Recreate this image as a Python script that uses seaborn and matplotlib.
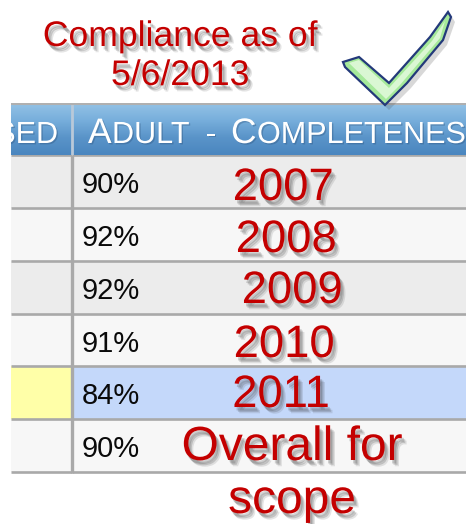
import numpy as np
import pandas as pd
import seaborn as sns
import matplotlib.pyplot as plt
import matplotlib.patheffects as pe
from matplotlib.colors import ListedColormap, LinearSegmentedColormap
from matplotlib.patches import Polygon

# Data
years = ['2007', '2008', '2009', '2010', '2011', 'Overall for\nscope']
completeness = [90, 92, 92, 91, 84, 90]
left_fill = ['gray', 'light', 'gray', 'light', 'yellow', 'light']
right_fill = ['gray', 'light', 'gray', 'light', 'blue', 'light']
title_lines = ['Compliance as of', '5/6/2013']
header_left = 'SED'
header_right = ['A', 'DULT', '-', 'C', 'OMPLETENESS']

fill_codes = {'gray': 0, 'light': 1, 'blue': 2, 'yellow': 3}
fill_colors = ['#ececec', '#f7f7f7', '#c4d8fa', '#ffffa8']
red = '#c40000'
grid = '#a9a9a9'

W, H = 466, 524
sns.set_style('white')
fig = plt.figure(figsize=(W / 100, H / 100), dpi=100)


def px_axes(x0, y0, x1, y1):
    return fig.add_axes([x0 / W, 1 - y1 / H, (x1 - x0) / W, (y1 - y0) / H])


# table body: two heatmap columns
cmap = ListedColormap(fill_colors)
df_left = pd.DataFrame({'left': [fill_codes[c] for c in left_fill]}, index=years)
df_right = pd.DataFrame({'right': [fill_codes[c] for c in right_fill]}, index=years)

ax_l = px_axes(11, 155, 72, 472)
sns.heatmap(df_left, ax=ax_l, cmap=cmap, vmin=-0.5, vmax=3.5, cbar=False,
            xticklabels=False, yticklabels=False)
ax_r = px_axes(72, 155, 466, 472)
sns.heatmap(df_right, ax=ax_r, cmap=cmap, vmin=-0.5, vmax=3.5, cbar=False,
            xticklabels=False, yticklabels=False)
for ax in (ax_l, ax_r):
    ax.hlines(np.arange(len(years) + 1), 0, 1, colors=grid, lw=1.9, clip_on=False)

for i, v in enumerate(completeness):
    ax_r.text(0.025, i + 0.72, f'{v}%', fontsize=21, family='Liberation Sans',
              color='#0a0a0a', va='baseline', ha='left')

# header bar with gradient
ax_h = px_axes(11, 103, 466, 155)
hdr_cmap = LinearSegmentedColormap.from_list('hdr', ['#95c3e6', '#78afdc', '#5a94c9', '#4a86bf'])
ax_h.imshow(np.linspace(0, 1, 100).reshape(-1, 1), extent=[11, 466, 155, 103],
            aspect='auto', cmap=hdr_cmap)
ax_h.set_xlim(11, 466)
ax_h.set_ylim(155, 103)
ax_h.axis('off')
ax_h.vlines(71.5, 103, 155, colors='#b9c9d9', lw=2)
ax_h.hlines(103.5, 11, 466, colors='#b0b0b0', lw=1.5)

hdr_shadow = [pe.withSimplePatchShadow(offset=(1, -1), shadow_rgbFace='#2a4f78', alpha=0.35)]
ax_h.text(58, 143, header_left, fontsize=22, family='Liberation Sans', color='white',
          ha='right', va='baseline', clip_on=True, path_effects=hdr_shadow)
hdr_x = [88, 112, 206, 231, 257]
for x, s in zip(hdr_x, header_right):
    big = s in ('A', 'C')
    ax_h.text(x, 143, s, fontsize=25.5 if big else 22, family='Liberation Sans',
              color='white', ha='left', va='baseline', clip_on=True, path_effects=hdr_shadow)

# overlay for annotations
ov = fig.add_axes([0, 0, 1, 1])
ov.set_xlim(0, W)
ov.set_ylim(H, 0)
ov.axis('off')
ov.vlines(71.5, 155, 473, colors=grid, lw=2.4)

shadow = [
    pe.SimplePatchShadow(offset=(3.5, -4.5), shadow_rgbFace='#303030', alpha=0.12),
    pe.SimplePatchShadow(offset=(2.5, -3.5), shadow_rgbFace='#303030', alpha=0.18),
    pe.SimplePatchShadow(offset=(1.5, -2.5), shadow_rgbFace='#303030', alpha=0.2),
    pe.Normal(),
]

title_y = [46, 85]
for y, s in zip(title_y, title_lines):
    ov.text(180, y, s, fontsize=25.6, family='Liberation Sans', color=red,
            ha='center', va='baseline', path_effects=shadow)

year_x = [283, 286, 292, 284, 281, 292]
year_y = [200, 252, 303, 357, 407, 460]
for x, y, s in zip(year_x, year_y, years):
    parts = s.split('\n')
    size = 32.7 if len(parts) == 1 else 34.5
    for k, p in enumerate(parts):
        ov.text(x, y + 53 * k, p, fontsize=size, family='Liberation Sans', color=red,
                ha='center', va='baseline', path_effects=shadow)

# check mark
check = [(343, 62), (359, 57), (389, 83), (430, 37), (448, 12), (451, 17),
         (443, 40), (407, 83), (385, 105), (345, 67)]
ov.add_patch(Polygon([(x + 4, y + 5) for x, y in check], closed=True,
                     facecolor='#404040', alpha=0.2, edgecolor='none'))
ov.add_patch(Polygon(check, closed=True, facecolor='#a6e99a', edgecolor='#23397a', lw=1.6))
inner = [(349, 63), (359, 60), (389, 88), (432, 41), (445, 21), (440, 38), (400, 85), (386, 99)]
ov.add_patch(Polygon(inner, closed=True, facecolor='#e8fbe2', edgecolor='none', alpha=0.8))

fig.savefig('out.png', dpi=100)
